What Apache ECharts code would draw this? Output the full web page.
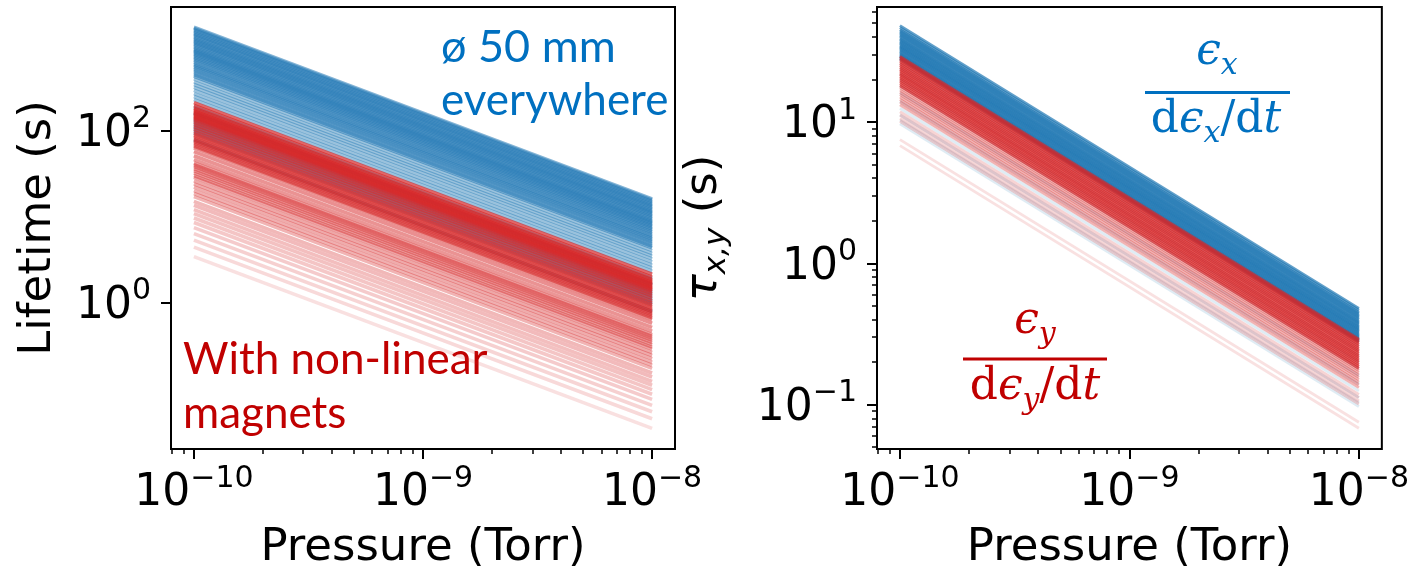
<!DOCTYPE html>
<html><head><meta charset="utf-8">
<script src="https://cdn.jsdelivr.net/npm/echarts@6/dist/echarts.min.js"></script>
<style>html,body{margin:0;padding:0;background:#fff}#c{width:1412px;height:576px}</style>
</head><body><div id="c"></div>
<script>
// ---------- data ----------
const linePressures = [1e-10, 1e-8];               // x of each line's two ends (Torr)
const pressureTicks = [1e-10, 1e-9, 1e-8];
const pressureMinorTicks = [8e-11, 9e-11, 2e-10, 3e-10, 4e-10, 5e-10, 6e-10, 7e-10, 8e-10, 9e-10,
  2e-9, 3e-9, 4e-9, 5e-9, 6e-9, 7e-9, 8e-9, 9e-9];
const lifetimeTicks = [1, 100];
const tauTicks = [0.1, 1, 10];
const tauMinorTicks = [0.05, 0.06, 0.07, 0.08, 0.09, 0.2, 0.3, 0.4, 0.5, 0.6, 0.7, 0.8, 0.9,
  2, 3, 4, 5, 6, 7, 8, 9, 20, 30, 40, 50, 60];

// [value at 1e-10 Torr, value at 1e-8 Torr]
const lifetimeBlue = [[1600,16],[1550,15.5],[1490,14.9],[1430,14.3],[1380,13.8],[1330,13.3],[1280,12.8],
  [1230,12.3],[1180,11.8],[1140,11.4],[1100,11],[1060,10.6],[1020,10.2],[980,9.8],[940,9.4],[900,9],
  [870,8.7],[840,8.4],[810,8.1],[780,7.8],[750,7.5],[720,7.2],[690,6.9],[660,6.6],[630,6.3],[600,6],
  [575,5.75],[550,5.5],[525,5.25],[500,5],[475,4.75],[450,4.5],[430,4.3],[400,4],[370,3.7],[345,3.45],
  [320,3.2],[295,2.95],[270,2.7],[250,2.5],[230,2.3],[190,1.9],[160,1.6],[135,1.35],[128,1.28],[121,1.21],
  [114,1.14],[108,1.08],[102,1.02],[95,0.95],[78,0.78]];
const lifetimeRed = [[212,2.12],[196,1.96],[183,1.83],[176,1.76],[170,1.7],[165,1.65],[160,1.6],[155,1.55],
  [150,1.5],[146,1.46],[142,1.42],[138,1.38],[132,1.32],[125,1.25],[118,1.18],[111,1.11],[104,1.04],
  [98,0.98],[93,0.93],[89,0.89],[85,0.85],[81,0.81],[78,0.78],[75,0.75],[72,0.72],[69,0.69],[66,0.66],
  [63,0.63],[57,0.57],[51,0.51],[46,0.46],[42,0.42],[40,0.4],[38,0.38],[36,0.36],[34,0.34],[32,0.32],
  [30,0.3],[28.5,0.285],[26,0.26],[24,0.24],[22,0.22],[20,0.2],[18.5,0.185],[17,0.17],[15,0.15],
  [13.5,0.135],[12,0.12],[10.8,0.108],[9.6,0.096],[8.5,0.085],[7.4,0.074],[6.3,0.063],[5.3,0.053],
  [4.4,0.044],[3.4,0.034]];
const tauXBlue = [[48,0.48],[46.5,0.465],[45,0.45],[44,0.44],[43,0.43],[42,0.42],[41,0.41],[40,0.4],
  [39,0.39],[38.2,0.382],[37.4,0.374],[36.6,0.366],[35.8,0.358],[35,0.35],[34.3,0.343],[33.6,0.336],
  [32.9,0.329],[32.2,0.322],[31.5,0.315],[30.8,0.308],[30.2,0.302],[29.6,0.296],[29,0.29],[28.4,0.284],
  [27.8,0.278],[26,0.26],[24,0.24],[22,0.22],[20,0.2],[18,0.18],[16,0.16],[14,0.14],[12.5,0.125],
  [11.2,0.112],[10.3,0.103],[9.7,0.097]];
const tauYRed = [[29,0.29],[28.2,0.282],[27.4,0.274],[26.6,0.266],[25.8,0.258],[25,0.25],[24.3,0.243],
  [23.6,0.236],[22.9,0.229],[22.2,0.222],[21.6,0.216],[21,0.21],[20.4,0.204],[19.8,0.198],[19.2,0.192],
  [18.6,0.186],[18,0.18],[17.4,0.174],[16.8,0.168],[16.2,0.162],[15.6,0.156],[15,0.15],[14.4,0.144],
  [13.8,0.138],[13.2,0.132],[11.8,0.118],[11.2,0.112],[10.6,0.106],[10.1,0.101],[7.5,0.075],[6.8,0.068]];

// ---------- styling ----------
const BLUE = '#1f77b4', RED = '#d62728';
const TXT_BLUE = '#0070c0', TXT_RED = '#c00000';
const MPL = 'DejaVu Sans';

function expLabel(v) {
  const e = Math.round(Math.log10(v));
  return '{b|10}{s|' + String(e).replace('-', '\u2212') + '}';
}
const tickRich = {
  b: {fontSize: 44, fontFamily: MPL, color: '#000', lineHeight: 52, verticalAlign: 'bottom'},
  s: {fontSize: 30, fontFamily: MPL, color: '#000', lineHeight: 30, verticalAlign: 'top'}
};
function mainAxis(gridIndex, pos, min, max, ticks, labelMargin, extra) {
  return Object.assign({
    type: 'log', gridIndex, position: pos, min, max, logBase: 10,
    axisLine: {show: false},
    splitLine: {show: false},
    minorTick: {show: false},
    axisTick: {show: true, customValues: ticks, length: 10, lineStyle: {color: '#000', width: 2}},
    axisLabel: {show: true, customValues: ticks, formatter: expLabel, rich: tickRich, margin: labelMargin,
      showMinLabel: true, showMaxLabel: true, hideOverlap: false},
    silent: true
  }, extra || {});
}
function minorAxis(gridIndex, pos, min, max, ticks) {
  return {
    type: 'log', gridIndex, position: pos, min, max, logBase: 10,
    axisLine: {show: false}, splitLine: {show: false}, axisLabel: {show: false},
    axisTick: {show: true, customValues: ticks, length: 5, lineStyle: {color: '#000', width: 1.5}},
    silent: true
  };
}
const xMin = Math.pow(10, -10.1), xMax = Math.pow(10, -7.9);
const nameStyle = {fontSize: 45, fontFamily: MPL, color: '#000'};

const xAxes = [
  mainAxis(0, 'bottom', xMin, xMax, pressureTicks, 15,
    {name: 'Pressure (Torr)', nameLocation: 'middle', nameGap: 77, nameTextStyle: nameStyle}),
  minorAxis(0, 'bottom', xMin, xMax, pressureMinorTicks),
  mainAxis(1, 'bottom', xMin, xMax, pressureTicks, 15,
    {name: 'Pressure (Torr)', nameLocation: 'middle', nameGap: 77, nameTextStyle: nameStyle}),
  minorAxis(1, 'bottom', xMin, xMax, pressureMinorTicks)
];
const yAxes = [
  mainAxis(0, 'left', Math.pow(10, -1.709), Math.pow(10, 3.44), lifetimeTicks, 20,
    {name: 'Lifetime (s)', nameLocation: 'middle', nameRotate: 90, nameGap: 110, nameTextStyle: nameStyle}),
  mainAxis(1, 'left', Math.pow(10, -1.314), Math.pow(10, 1.813), tauTicks, 20,
    {name: '{t|\u03c4}{s|x,y}{n| (s)}', nameLocation: 'middle', nameRotate: 90, nameGap: 145,
     nameTextStyle: {color: '#000', rich: {
       t: {fontSize: 45, fontFamily: MPL, fontStyle: 'italic', color: '#000', lineHeight: 50, verticalAlign: 'top'},
       s: {fontSize: 31, fontFamily: MPL, fontStyle: 'italic', color: '#000', lineHeight: 30, verticalAlign: 'bottom'},
       n: {fontSize: 45, fontFamily: MPL, color: '#000', lineHeight: 50, verticalAlign: 'top'}
     }}}),
  minorAxis(1, 'left', Math.pow(10, -1.314), Math.pow(10, 1.813), tauMinorTicks)
];

function lineSeries(pair, xi, yi, color, width, opacity, z) {
  return {
    type: 'line', xAxisIndex: xi, yAxisIndex: yi,
    data: [[linePressures[0], pair[0]], [linePressures[1], pair[1]]],
    symbol: 'none', showSymbol: false, silent: true, animation: false, z: z,
    lineStyle: {color, width, opacity, cap: 'butt'}, emphasis: {disabled: true}
  };
}
const clamp = v => Math.max(0, Math.min(1, v));
const series = [];
lifetimeBlue.forEach(p => series.push(lineSeries(p, 0, 0, BLUE, 3.6, p[0] >= 420 ? 0.55 : 0.45, 2)));
lifetimeRed.forEach(p => series.push(lineSeries(p, 0, 0, RED, 3.6,
  0.14 + 0.56 * Math.pow(clamp((Math.log10(p[0]) - 0.5) / 1.8), 1.1), 3)));
tauXBlue.forEach(p => series.push(lineSeries(p, 2, 1, BLUE, 2.8, p[0] >= 27.5 ? 0.7 : 0.14, 2)));
tauYRed.forEach(p => series.push(lineSeries(p, 2, 1, RED, 2.8,
  p[0] >= 17.5 ? 0.7 : (p[0] >= 13 ? 0.35 : (p[0] >= 10 ? 0.2 : 0.14)), 3)));

const serif = 'DejaVu Serif';
const fracRich = (col) => ({
  e: {fontSize: 44, fontFamily: serif, fontStyle: 'italic', fill: col, lineHeight: 50, verticalAlign: 'top'},
  r: {fontSize: 44, fontFamily: serif, fill: col, lineHeight: 50, verticalAlign: 'top'},
  s: {fontSize: 30, fontFamily: serif, fontStyle: 'italic', fill: col, lineHeight: 30, verticalAlign: 'bottom'}
});
const calib = 'Lato';
const graphic = [
  {type: 'text', x: 441, y: 47, style: {text: '\u00f8 50 mm', font: '45px ' + calib, fill: TXT_BLUE, verticalAlign: 'middle'}},
  {type: 'text', x: 441, y: 101, style: {text: 'everywhere', font: '44px ' + calib, fill: TXT_BLUE, verticalAlign: 'middle'}},
  {type: 'text', x: 183, y: 360, style: {text: 'With non-linear', font: '44px ' + calib, fill: TXT_RED, verticalAlign: 'middle'}},
  {type: 'text', x: 183, y: 414, style: {text: 'magnets', font: '44px ' + calib, fill: TXT_RED, verticalAlign: 'middle'}},
  // blue fraction
  {type: 'text', x: 1217, y: 56, style: {text: '{e|\u03f5}{s|x}', rich: fracRich(TXT_BLUE), fill: TXT_BLUE, align: 'center', verticalAlign: 'middle'}},
  {type: 'line', shape: {x1: 1145, y1: 92.5, x2: 1290, y2: 92.5}, style: {stroke: TXT_BLUE, lineWidth: 3}},
  {type: 'text', x: 1216, y: 124, style: {text: '{r|d}{e|\u03f5}{s|x}{r|/d}{e|t}', rich: fracRich(TXT_BLUE), fill: TXT_BLUE, align: 'center', verticalAlign: 'middle'}},
  // red fraction
  {type: 'text', x: 1035, y: 325, style: {text: '{e|\u03f5}{s|y}', rich: fracRich(TXT_RED), fill: TXT_RED, align: 'center', verticalAlign: 'middle'}},
  {type: 'line', shape: {x1: 963, y1: 359, x2: 1107, y2: 359}, style: {stroke: TXT_RED, lineWidth: 3}},
  {type: 'text', x: 1035, y: 391, style: {text: '{r|d}{e|\u03f5}{s|y}{r|/d}{e|t}', rich: fracRich(TXT_RED), fill: TXT_RED, align: 'center', verticalAlign: 'middle'}}
];

const chart = echarts.init(document.getElementById('c'), null, {renderer: 'canvas'});
chart.setOption({
  animation: false,
  backgroundColor: '#fff',
  grid: [
    {left: 171, top: 7, width: 504, height: 448, show: true, borderColor: '#000', borderWidth: 2, backgroundColor: 'transparent'},
    {left: 877, top: 7, width: 507, height: 448, show: true, borderColor: '#000', borderWidth: 2, backgroundColor: 'transparent'}
  ],
  xAxis: xAxes,
  yAxis: yAxes,
  series: series,
  graphic: graphic
});
</script>
</body></html>
